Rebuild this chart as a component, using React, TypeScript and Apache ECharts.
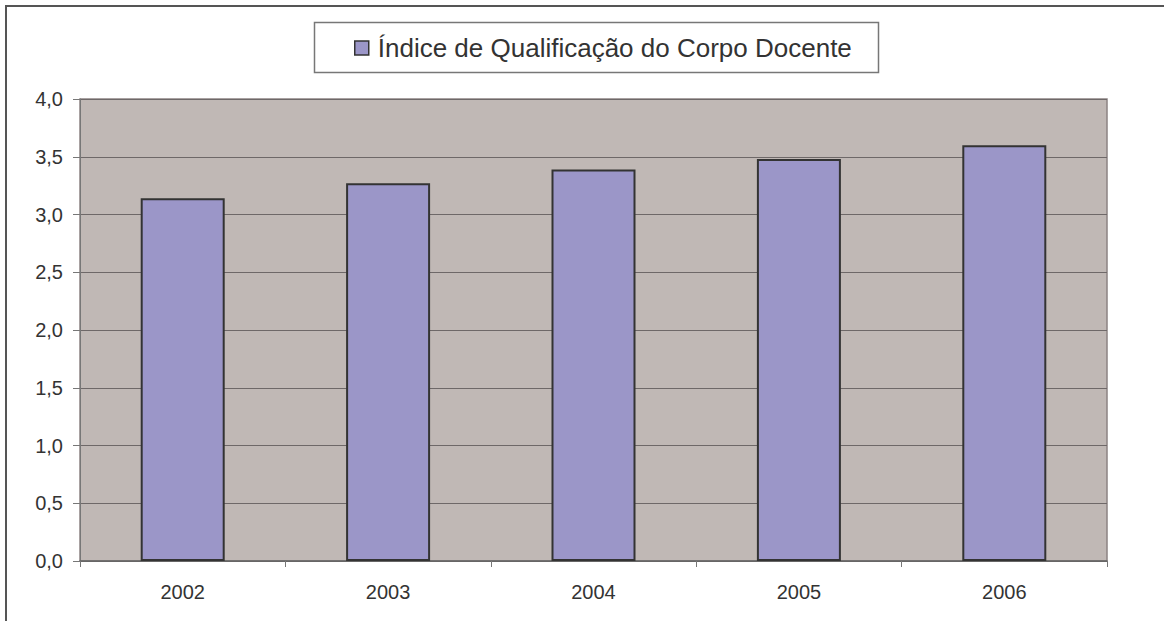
import React, { useEffect, useRef } from "react";
import * as echarts from "echarts";

const categories = ["2002", "2003", "2004", "2005", "2006"];
const seriesName = "Índice de Qualificação do Corpo Docente";
const values = [3.14, 3.27, 3.39, 3.48, 3.6];
const yTicks = [0, 0.5, 1, 1.5, 2, 2.5, 3, 3.5, 4];

export default function App() {
  const ref = useRef<HTMLDivElement>(null);
  useEffect(() => {
    if (!ref.current) return;
    const chart = echarts.init(ref.current, undefined, { renderer: "svg" });
    chart.setOption({
      animation: false,
      backgroundColor: "#ffffff",
      textStyle: { fontFamily: "Liberation Sans, Arial, sans-serif" },
      graphic: [
        {
          type: "rect",
          z: 0,
          shape: { x: 6, y: 6, width: 1200, height: 700 },
          style: { fill: "none", stroke: "#555555", lineWidth: 2 },
        },
        {
          type: "rect",
          z: 1,
          shape: { x: 314.5, y: 22.5, width: 564, height: 50 },
          style: { fill: "#ffffff", stroke: "#777777", lineWidth: 1.5 },
        },
      ],
      legend: {
        left: 354,
        top: 35,
        padding: 0,
        z: 10,
        itemWidth: 14,
        itemHeight: 14,
        icon: "rect",
        itemStyle: { borderColor: "#333333", borderWidth: 1.5 },
        textStyle: {
          fontSize: 26,
          color: "#333333",
          fontFamily: "Liberation Sans, Arial, sans-serif",
          padding: [0, 0, 0, 4],
        },
        data: [seriesName],
      },
      grid: {
        left: 80,
        top: 99,
        width: 1027,
        height: 462,
        show: true,
        backgroundColor: "#c0b8b5",
        borderColor: "#8c8282",
        borderWidth: 1.5,
      },
      xAxis: {
        type: "category",
        data: categories,
        boundaryGap: true,
        axisLine: { show: true, lineStyle: { color: "#666666", width: 1.5 } },
        axisTick: { show: true, alignWithLabel: false, length: 6, lineStyle: { color: "#777777" } },
        axisLabel: {
          margin: 21,
          fontSize: 20,
          color: "#333333",
          fontFamily: "Liberation Sans, Arial, sans-serif",
        },
      },
      yAxis: {
        type: "value",
        min: 0,
        max: 4,
        interval: 0.5,
        axisLine: { show: true, lineStyle: { color: "#777777" } },
        axisTick: { show: true, length: 7, lineStyle: { color: "#777777" } },
        axisLabel: {
          margin: 17,
          fontSize: 20,
          color: "#333333",
          fontFamily: "Liberation Sans, Arial, sans-serif",
          formatter: (v: number) => v.toFixed(1).replace(".", ","),
        },
        splitLine: { show: true, lineStyle: { color: "#6e6868", width: 1 } },
      },
      series: [
        {
          name: seriesName,
          type: "bar",
          data: values,
          barWidth: 84,
          itemStyle: { color: "#9b96c8", borderColor: "#333333", borderWidth: 2 },
        },
      ],
    });
    void yTicks;
    return () => chart.dispose();
  }, []);
  return (
    <div
      ref={ref}
      style={{ position: "fixed", left: 0, top: 0, width: 1164, height: 621 }}
    />
  );
}
